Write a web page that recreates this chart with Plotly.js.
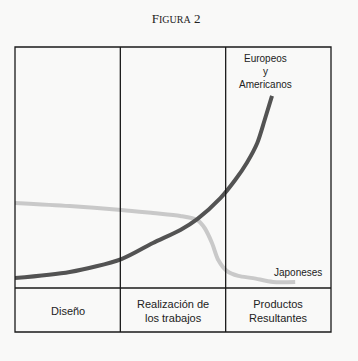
<!DOCTYPE html>
<html>
<head>
<meta charset="utf-8">
<script src="https://cdn.plot.ly/plotly-3.0.1.min.js"></script>
<style>
html,body{margin:0;padding:0;background:#f9f9f8;}
#chart{width:358px;height:361px;}
</style>
</head>
<body>
<div id="chart"></div>
<script>
// Stage (column) labels, each split into lines
const stages = [["Diseño"], ["Realización de", "los trabajos"], ["Productos", "Resultantes"]];
// Curve: Europeos y Americanos (x in stage units, y relative level)
const euroX = [0, 0.52, 1.01, 1.31, 1.57, 1.73, 1.95, 2.09, 2.20, 2.30, 2.37, 2.44];
const euroY = [4.1, 6.6, 12.0, 18.7, 24.1, 28.6, 37.3, 44.8, 51.9, 60.2, 69.7, 79.7];
// Curve: Japoneses
const japX = [0, 0.52, 1.01, 1.31, 1.57, 1.73, 1.80, 1.87, 1.93, 2.01, 2.12, 2.26, 2.45, 2.66];
const japY = [35.3, 34.0, 32.4, 31.1, 29.9, 28.2, 24.9, 18.7, 11.6, 7.1, 5.0, 4.1, 2.5, 2.5];
const euroLabel = ["Europeos", "y", "Americanos"];
const japLabel = "Japoneses";

const font = "Liberation Sans, Arial, sans-serif";
const traces = [
  {x: japX, y: japY, mode: "lines", line: {color: "#c9c9c9", width: 4, shape: "spline", smoothing: 0.8}, hoverinfo: "skip"},
  {x: euroX, y: euroY, mode: "lines", line: {color: "#535353", width: 4, shape: "spline", smoothing: 0.8}, hoverinfo: "skip"}
];

const bottom = -0.1826;
const lineStyle = {color: "#1a1a1a", width: 1.3};
const shapes = [
  {type: "rect", xref: "paper", yref: "paper", x0: 0, x1: 1, y0: bottom, y1: 1, line: lineStyle},
  {type: "line", xref: "paper", yref: "paper", x0: 0, x1: 1, y0: 0, y1: 0, line: lineStyle}
];
for (let i = 1; i < stages.length; i++) {
  shapes.push({type: "line", xref: "x", yref: "paper", x0: i, x1: i, y0: bottom, y1: 1, line: lineStyle});
}

const annotations = [];
stages.forEach((lines, i) => {
  annotations.push({x: i + 0.5, xref: "x", yref: "paper", y: -0.097, text: lines.join("<br>"), showarrow: false,
    font: {family: font, size: 11, color: "#222"}, xanchor: "center", yanchor: "middle", borderpad: 0});
});
annotations.push({x: 2.38, y: 90, text: euroLabel.join("<br>"), showarrow: false,
  font: {family: font, size: 10, color: "#222"}, xanchor: "center", yanchor: "middle", borderpad: 0});
annotations.push({x: 2.69, y: 6.6, text: japLabel, showarrow: false,
  font: {family: font, size: 10, color: "#222"}, xanchor: "center", yanchor: "middle", borderpad: 0});

const layout = {
  width: 358, height: 361,
  margin: {l: 15, r: 27, t: 47, b: 73},
  paper_bgcolor: "#f9f9f8", plot_bgcolor: "#f9f9f8",
  showlegend: false,
  title: {text: "F<span style='font-size:10px'>IGURA</span> 2", font: {family: "Liberation Serif, DejaVu Serif, serif", size: 13, color: "#222"},
    x: 0.492, xref: "container", xanchor: "center", y: 0.95, yref: "container", yanchor: "middle"},
  xaxis: {range: [0, 3], showgrid: false, zeroline: false, showticklabels: false, ticks: "", showline: false, fixedrange: true},
  yaxis: {range: [0, 100], showgrid: false, zeroline: false, showticklabels: false, ticks: "", showline: false, fixedrange: true},
  shapes: shapes,
  annotations: annotations
};
Plotly.newPlot("chart", traces, layout, {displayModeBar: false, staticPlot: true});
</script>
</body>
</html>
